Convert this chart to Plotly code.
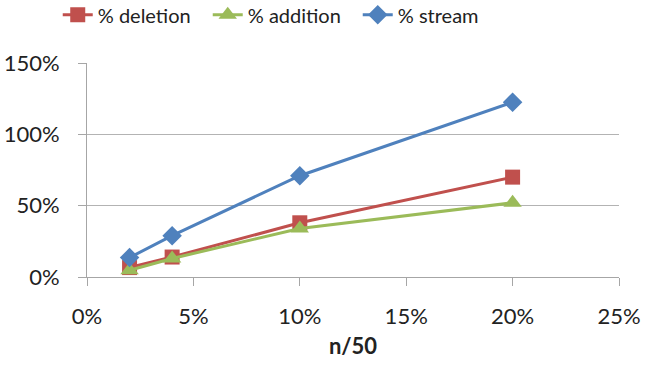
import plotly.graph_objects as go

x_vals = [0.02, 0.04, 0.10, 0.20]
deletion = [0.066, 0.14, 0.38, 0.70]
addition = [0.047, 0.13, 0.34, 0.52]
stream = [0.136, 0.29, 0.71, 1.225]

series_names = ["% deletion", "% addition", "% stream"]
colors = ["#C0504D", "#9BBB59", "#4F81BD"]
symbols = ["square", "triangle-up", "diamond"]
sizes = [15, 16, 15]

FONT = "Lato"

fig = go.Figure()
for name, ys, c, s, sz in zip(series_names, [deletion, addition, stream], colors, symbols, sizes):
    fig.add_trace(go.Scatter(
        x=x_vals, y=ys, name=name, mode="lines+markers",
        line=dict(color=c, width=3),
        marker=dict(symbol=s, size=sz, color=c),
    ))

fig.update_layout(
    width=646, height=365,
    margin=dict(l=87, r=27, t=63, b=88, autoexpand=False),
    paper_bgcolor="white", plot_bgcolor="white",
    font=dict(family=FONT, size=22, color="#222222"),
    showlegend=True,
    legend=dict(orientation="h", x=-0.055, xanchor="left", xref="paper",
                y=1.225, yref="paper", yanchor="middle",
                font=dict(size=20, color="#222222"),
                itemwidth=30, tracegroupgap=0, entrywidth=105),
    xaxis=dict(range=[0, 0.25], tickvals=[0, 0.05, 0.10, 0.15, 0.20, 0.25],
               tickformat=".0%", showgrid=False, zeroline=False,
               showline=True, linecolor="#a6a6a6", linewidth=1,
               ticks="outside", ticklen=8, tickcolor="#a6a6a6",
               ticklabelstandoff=12, automargin=False,
               title=dict(text="<b>n/50</b>", font=dict(size=22), standoff=10)),
    yaxis=dict(range=[0, 1.5], tickvals=[0, 0.5, 1.0, 1.5],
               tickformat=".0%", showgrid=True, gridcolor="#b3b3b3", gridwidth=1,
               zeroline=False, showline=True, linecolor="#a6a6a6", linewidth=1,
               ticks="outside", ticklen=8, tickcolor="#a6a6a6",
               ticklabelstandoff=14, automargin=False),
)

fig.write_html("out.html", config={"displayModeBar": False},
               post_script="document.body.style.margin='0';document.body.style.overflow='hidden';")
